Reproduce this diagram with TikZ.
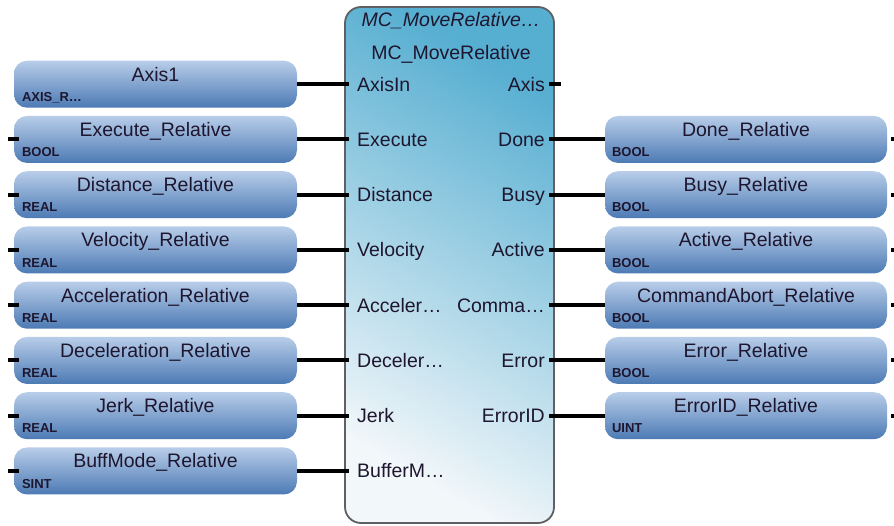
\documentclass[tikz,border=0pt]{standalone}
\usepackage{fontspec}
\setmainfont{Liberation Sans}
\usetikzlibrary{positioning}

\definecolor{fbtop}{RGB}{86,174,209}
\definecolor{fbbot}{RGB}{242,247,250}
\definecolor{fbframe}{RGB}{95,95,100}
\definecolor{vartop}{RGB}{184,205,233}
\definecolor{varbot}{RGB}{76,122,180}
\definecolor{txt}{RGB}{30,22,46}

\tikzset{
    fblock/.style={draw=fbframe, line width=1.8pt, rounded corners=16pt,
        top color=fbtop, bottom color=fbbot, shading angle=-30,
        minimum width=209pt, minimum height=516pt, inner sep=0pt},
    varbox/.style={rounded corners=13pt, top color=vartop, bottom color=varbot,
        minimum width=283pt, minimum height=47pt, inner sep=0pt},
    vartext/.style={font=\fontsize{19.5}{22}\selectfont, text=txt, anchor=base, inner sep=0pt},
    vartype/.style={font=\bfseries\fontsize{13}{14}\selectfont, text=txt, anchor=base west, inner sep=0pt},
    pintext/.style={font=\fontsize{19.5}{22}\selectfont, text=txt, inner sep=0pt},
    wire/.style={line width=4pt, black},
}

\begin{document}
\begin{tikzpicture}[x=1pt, y=-1pt]
    \useasboundingbox (0,0) rectangle (894,525);

    % function block
    \node[fblock] (fb) at (449.5,265) {};
    \node[pintext, anchor=base] (fb-inst) at (451,26) {\itshape MC\_MoveRelative…};
    \node[pintext, anchor=base] (fb-type) at (451,59) {MC\_MoveRelative};

    % inputs
    \foreach \nm/\ty/\pin [count=\i from 0] in {
            Axis1/AXIS\_R…/AxisIn,
            Execute\_Relative/BOOL/Execute,
            Distance\_Relative/REAL/Distance,
            Velocity\_Relative/REAL/Velocity,
            Acceleration\_Relative/REAL/Acceler…,
            Deceleration\_Relative/REAL/Deceler…,
            Jerk\_Relative/REAL/Jerk,
            BuffMode\_Relative/SINT/BufferM…} {
        \node[varbox] (invar\i) at (155.5,{84.2+55.25*\i}) {};
        \node[vartext] (invar\i-name) at ([yshift=-20.5pt]invar\i.north) {\nm};
        \node[vartype] (invar\i-type) at ([xshift=8pt,yshift=6.5pt]invar\i.south west) {\ty};
        \node[pintext, anchor=base west] (inpin\i-lbl) at (357,{84.2+55.25*\i+7}) {\pin};
        \coordinate (inpin\i) at (349,{84.2+55.25*\i});
        \draw[wire] (invar\i.east) -- (inpin\i);
        \ifnum\i>0
            \draw[wire] ([xshift=-6pt]invar\i.west) -- ([xshift=5pt]invar\i.west);
        \fi
    }

    % outputs
    \node[pintext, anchor=base east] (outpin0-lbl) at (545,91.2) {Axis};
    \coordinate (outpin0) at (549,84.2);
    \coordinate (outpin0-end) at (561,84.2);
    \draw[wire] (outpin0) -- (outpin0-end);

    \foreach \nm/\ty/\pin [count=\i from 1] in {
            Done\_Relative/BOOL/Done,
            Busy\_Relative/BOOL/Busy,
            Active\_Relative/BOOL/Active,
            CommandAbort\_Relative/BOOL/Comma…,
            Error\_Relative/BOOL/Error,
            ErrorID\_Relative/UINT/ErrorID} {
        \node[varbox, minimum width=282pt] (outvar\i) at (746,{84.2+55.25*\i}) {};
        \node[vartext] (outvar\i-name) at ([yshift=-20.5pt]outvar\i.north) {\nm};
        \node[vartype] (outvar\i-type) at ([xshift=7pt,yshift=6.5pt]outvar\i.south west) {\ty};
        \node[pintext, anchor=base east] (outpin\i-lbl) at (545,{84.2+55.25*\i+7}) {\pin};
        \coordinate (outpin\i) at (549,{84.2+55.25*\i});
        \draw[wire] (outpin\i) -- (outvar\i.west);
        \draw[wire] ([xshift=4pt]outvar\i.east) -- ([xshift=12pt]outvar\i.east);
    }
\end{tikzpicture}
\end{document}
